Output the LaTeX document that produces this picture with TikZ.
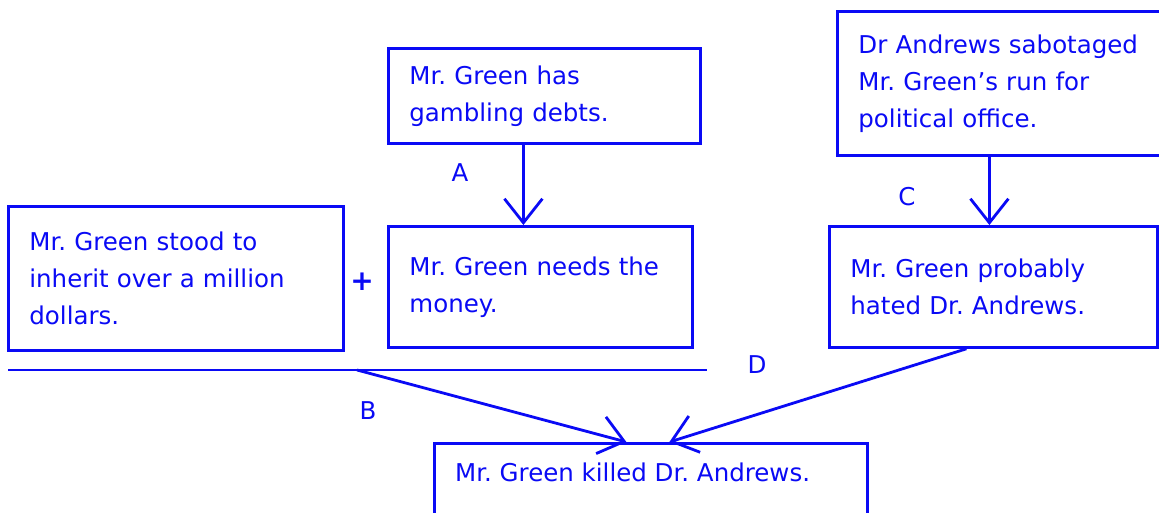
\documentclass[tikz,border=0pt]{standalone}
\usepackage{fontspec}
\setmainfont{DejaVu Sans}
\usetikzlibrary{arrows.meta}
\definecolor{ink}{RGB}{10,10,245}
\frenchspacing
\begin{document}
\begin{tikzpicture}[x=1pt,y=1pt,
  every node/.style={text=ink, font=\fontsize{24.5}{37}\selectfont},
  box/.style={draw=ink, line width=2.8pt, rectangle, inner xsep=21pt, inner ysep=0pt, align=left},
  lbl/.style={inner sep=0pt},
  arr/.style={draw=ink, line width=2.8pt, -{Straight Barb[length=24pt,width=38pt,line width=2.8pt]}},
  ln/.style={draw=ink, line width=2.8pt}]
\clip (0,0) rectangle (1159,513);
\fill[white] (0,0) rectangle (1159,513);
% boxes
\node[box, anchor=north west, minimum width=312pt, minimum height=95pt, text width=270pt] (gamb) at (387,466) {Mr. Green has\\gambling debts.};
\node[box, anchor=north west, minimum width=360pt, minimum height=144pt, text width=318pt] (sabo) at (836,503) {Dr Andrews sabotaged\\Mr. Green’s run for\\political office.};
\node[box, anchor=north west, minimum width=335pt, minimum height=144pt, text width=293pt] (inher) at (7,308) {Mr. Green stood to\\inherit over a million\\dollars.};
\node[box, anchor=north west, minimum width=304pt, minimum height=121pt, text width=262pt] (money) at (387,288) {Mr. Green needs the\\money.\\[8pt]};
\node[box, anchor=north west, minimum width=328pt, minimum height=121pt, text width=286pt] (hated) at (828,288) {Mr. Green probably\\hated Dr. Andrews.\\[8pt]};
\node[box, anchor=north west, minimum width=433pt, minimum height=100pt] (kill) at (433,71) {};
\node[lbl, anchor=west] (killt) at (455,41) {Mr. Green killed Dr. Andrews.};
% joining line
\coordinate (lineL) at (8,143);
\coordinate (lineR) at (707,143);
\coordinate (bstart) at (357,143);
\draw[ln] (lineL) -- (lineR);
% arrows
\draw[arr] ([xshift=-21pt]gamb.south) -- ([xshift=-21pt]gamb.south |- money.north);
\draw[arr] ([xshift=-4pt]hated.north |- sabo.south) -- ([xshift=-4pt]hated.north);
\draw[arr] (bstart) -- ([xshift=-24.5pt]kill.north);
\draw[arr] ([xshift=-27pt]hated.south) -- ([xshift=18.5pt]kill.north);
% labels
\node[lbl] (la) at (460,340) {A};
\node[lbl] (lb) at (368,102) {B};
\node[lbl] (lc) at (907,316) {C};
\node[lbl] (ld) at (757,148) {D};
\node[lbl, font=\fontsize{28}{30}\selectfont\bfseries] (plus) at (362,231) {+};
\end{tikzpicture}
\end{document}
